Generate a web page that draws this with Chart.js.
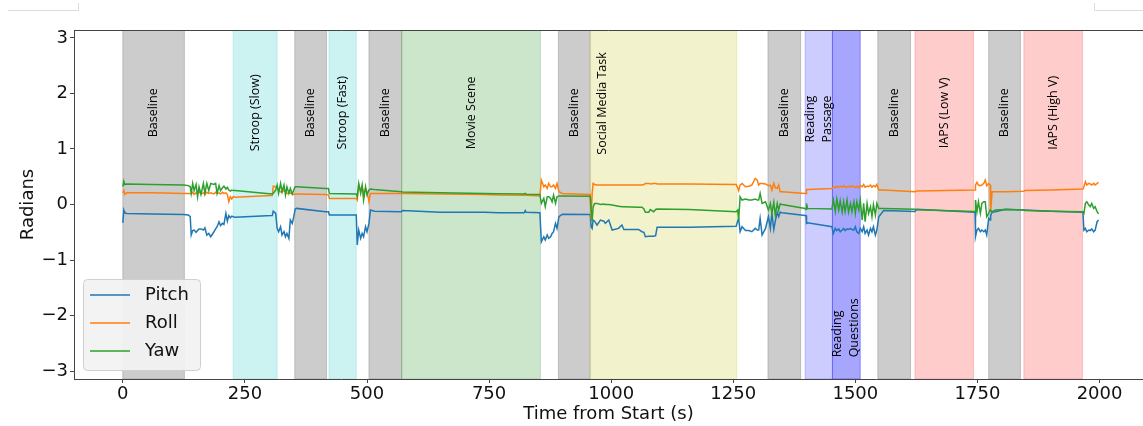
<!DOCTYPE html>
<html>
<head>
<meta charset="utf-8">
<script src="https://cdn.jsdelivr.net/npm/chart.js@4.4.1/dist/chart.umd.min.js"></script>
<style>
  html, body { margin: 0; padding: 0; background: #fff; overflow: hidden; }
  #wrap { position: relative; width: 1143px; height: 426px; }
</style>
</head>
<body>
<div id="wrap"><canvas id="myChart"></canvas></div>
<script>
// time (s) of each sample, shared by the three series
const t = [
  0, 2, 4, 8, 60, 125, 134,
  138, 140, 143, 146, 150, 153, 156, 160, 165, 168, 172, 176, 180, 186, 190, 193, 197, 200, 204, 207, 211, 214, 217, 220, 223, 226,
  230, 305,
  306, 308, 313, 316, 319, 323, 326, 330, 333, 336, 340, 343, 347, 350, 353,
  356, 415, 421,
  423, 478,
  480, 483, 487, 490, 493, 497, 500, 504, 507,
  515, 570, 573, 650, 740, 770, 822, 824, 826, 854,
  857, 862, 865, 869, 872, 876, 879, 882, 886, 889, 893, 900,
  955,
  957, 959, 961, 963, 966, 971, 978, 985, 988, 995, 1002, 1015, 1022, 1026, 1056, 1063, 1067, 1070, 1077, 1080, 1087, 1091, 1094, 1160, 1256,
  1259, 1261, 1264, 1268, 1275, 1282, 1288, 1295, 1299, 1302, 1305, 1309, 1316, 1322, 1326, 1329, 1333, 1336, 1340, 1343, 1346,
  1350, 1397,
  1399, 1400, 1402, 1452,
  1455, 1459, 1462, 1466, 1469, 1473, 1476, 1479, 1483, 1486, 1490, 1493, 1497, 1500, 1503, 1507, 1510, 1514, 1517, 1520, 1524, 1527, 1531, 1534, 1537, 1541, 1544, 1548,
  1558, 1622, 1626, 1745,
  1746, 1749, 1752, 1756, 1759, 1763, 1766, 1769, 1773, 1776, 1777, 1780, 1787, 1807,
  1845, 1847, 1900, 1966,
  1968, 1971, 1974, 1978, 1981, 1984, 1988, 1991, 1995, 1998
];

const pitch = [
  -0.33, -0.10, -0.15, -0.16, -0.17, -0.18, -0.19,
  -0.22, -0.55, -0.47, -0.46, -0.50, -0.47, -0.44, -0.44, -0.46, -0.42, -0.55, -0.52, -0.58, -0.50, -0.44, -0.40, -0.31, -0.38, -0.34, -0.36, -0.16, -0.30, -0.20, -0.24, -0.21, -0.22,
  -0.23, -0.20,
  -0.20, -0.12, -0.16, -0.43, -0.49, -0.40, -0.55, -0.49, -0.58, -0.52, -0.61, -0.28, -0.34, -0.22, -0.08,
  -0.07, -0.13, -0.13,
  -0.19, -0.19,
  -0.73, -0.46, -0.61, -0.52, -0.58, -0.40, -0.49, -0.34, -0.10,
  -0.12, -0.13, -0.11, -0.14, -0.14, -0.15, -0.15, -0.11, -0.14, -0.15,
  -0.67, -0.58, -0.64, -0.55, -0.61, -0.58, -0.52, -0.49, -0.34, -0.43, -0.22, -0.175,
  -0.18,
  -0.18, -0.40, -0.43, -0.28, -0.30, -0.37, -0.28, -0.30, -0.34, -0.28, -0.46, -0.43, -0.37, -0.45, -0.45, -0.49, -0.50, -0.58, -0.57, -0.57, -0.57, -0.56, -0.41, -0.41, -0.39,
  -0.30, -0.25, -0.49, -0.40, -0.47, -0.47, -0.49, -0.43, -0.46, -0.46, -0.25, -0.55, -0.43, -0.22, -0.43, -0.16, -0.45, -0.30, -0.14, -0.22, -0.14,
  -0.15, -0.20,
  -0.20, -0.34, -0.33, -0.40,
  -0.52, -0.43, -0.47, -0.44, -0.49, -0.46, -0.43, -0.47, -0.44, -0.45, -0.43, -0.45, -0.46, -0.40, -0.49, -0.52, -0.43, -0.49, -0.40, -0.52, -0.46, -0.55, -0.43, -0.49, -0.40, -0.55, -0.46, -0.22,
  -0.11, -0.125, -0.085, -0.14,
  -0.58, -0.46, -0.43, -0.49, -0.46, -0.49, -0.46, -0.55, -0.25, -0.28, -0.20, -0.14, -0.13, -0.085,
  -0.10, -0.10, -0.12, -0.14,
  -0.46, -0.43, -0.49, -0.46, -0.47, -0.44, -0.49, -0.46, -0.31, -0.28
];

const roll = [
  0.21, 0.25, 0.18, 0.21, 0.21, 0.20, 0.20,
  0.20, 0.19, 0.22, 0.18, 0.21, 0.20, 0.23, 0.19, 0.21, 0.18, 0.22, 0.20, 0.21, 0.19, 0.22, 0.20, 0.21, 0.19, 0.22, 0.20, 0.21, 0.18, 0.05, 0.14, 0.10, 0.14,
  0.13, 0.16,
  0.16, 0.33, 0.32, 0.31, 0.26, 0.23, 0.22, 0.26, 0.24, 0.20, 0.20, 0.21, 0.19, 0.18, 0.19,
  0.19, 0.18, 0.17,
  0.11, 0.11,
  0.08, 0.35, 0.26, 0.32, 0.20, 0.29, 0.23, 0.05, 0.20,
  0.20, 0.20, 0.20, 0.19, 0.18, 0.17, 0.165, 0.17, 0.165, 0.155,
  0.44, 0.32, 0.35, 0.29, 0.38, 0.32, 0.32, 0.35, 0.29, 0.38, 0.23, 0.20,
  0.18,
  0.18, -0.27, 0.20, 0.38, 0.36, 0.35, 0.35, 0.35, 0.35, 0.35, 0.35, 0.35, 0.35, 0.35, 0.35, 0.35, 0.36, 0.38, 0.38, 0.37, 0.38, 0.38, 0.37, 0.37, 0.36,
  0.30, 0.25, 0.35, 0.38, 0.32, 0.33, 0.35, 0.47, 0.44, 0.35, 0.38, 0.38, 0.37, 0.34, 0.35, 0.26, 0.38, 0.30, 0.29, 0.35, 0.23,
  0.23, 0.20,
  0.20, 0.27, 0.27, 0.29,
  0.32, 0.30, 0.33, 0.31, 0.33, 0.31, 0.34, 0.32, 0.31, 0.33, 0.31, 0.34, 0.32, 0.31, 0.33, 0.30, 0.34, 0.32, 0.36, 0.31, 0.33, 0.32, 0.35, 0.31, 0.34, 0.32, 0.36, 0.26,
  0.26, 0.23, 0.245, 0.26,
  0.35, 0.40, 0.35, 0.34, 0.35, 0.38, 0.44, 0.34, 0.38, 0.35, -0.13, 0.23, 0.23, 0.23,
  0.24, 0.25, 0.26, 0.28,
  0.32, 0.41, 0.35, 0.38, 0.37, 0.35, 0.38, 0.35, 0.38, 0.40
];

const yaw = [
  0.32, 0.42, 0.36, 0.37, 0.36, 0.35, 0.34,
  0.32, 0.20, 0.38, 0.25, 0.36, 0.14, 0.32, 0.18, 0.38, 0.20, 0.38, 0.25, 0.38, 0.36, 0.38, 0.20, 0.34, 0.25, 0.30, 0.33, 0.28, 0.31, 0.26, 0.24, 0.26, 0.25,
  0.25, 0.19,
  0.19, 0.20, 0.26, 0.35, 0.20, 0.38, 0.23, 0.35, 0.17, 0.32, 0.20, 0.29, 0.19, 0.26, 0.32,
  0.32, 0.29, 0.29,
  0.20, 0.19,
  0.14, 0.38, 0.20, 0.35, 0.08, 0.32, 0.17, 0.26, 0.28,
  0.27, 0.23, 0.225, 0.21, 0.20, 0.195, 0.19, 0.20, 0.185, 0.18,
  0.02, 0.11, -0.04, 0.14, 0.14, 0.11, 0.05, 0.17, 0.02, 0.14, 0.155, 0.155,
  0.15,
  0.15, -0.10, -0.30, -0.05, 0.02, 0.02, 0.00, 0.01, 0.00, 0.00, -0.01, -0.03, -0.04, -0.04, -0.05, -0.05, -0.08, -0.14, -0.14, -0.09, -0.13, -0.09, -0.08, -0.09, -0.13,
  -0.10, -0.28, 0.14, 0.08, 0.10, 0.08, 0.08, 0.10, 0.08, 0.08, 0.20, 0.02, 0.05, -0.10, 0.02, -0.16, 0.04, -0.19, 0.02, -0.10, 0.01,
  0.00, -0.07,
  -0.09, 0.02, -0.07, -0.08,
  0.08, -0.13, 0.10, -0.10, 0.07, -0.14, 0.05, -0.13, 0.08, -0.14, 0.02, -0.13, 0.05, -0.16, 0.05, -0.10, 0.08, -0.28, 0.02, -0.31, 0.02, -0.16, -0.04, -0.22, 0.00, -0.19, 0.02, -0.07,
  -0.07, -0.085, -0.095, -0.125,
  0.08, -0.13, 0.05, -0.16, 0.02, 0.05, 0.05, -0.22, -0.16, -0.10, -0.11, -0.13, -0.10, -0.09,
  -0.10, -0.11, -0.12, -0.13,
  -0.16, 0.02, 0.05, -0.01, -0.04, 0.02, -0.07, -0.04, -0.13, -0.17
];

// task segments
const segStart = [0, 226, 352, 422, 504, 571, 892, 957, 1321, 1397, 1453, 1546, 1622, 1773, 1845];
const segEnd   = [126, 316, 417, 478, 571, 855, 957, 1257, 1388, 1453, 1510, 1613, 1742, 1838, 1965];
const segLabel = ['Baseline', 'Stroop (Slow)', 'Baseline', 'Stroop (Fast)', 'Baseline', 'Movie Scene',
  'Baseline', 'Social Media Task', 'Baseline', 'Reading\nPassage', 'Reading\nQuestions',
  'Baseline', 'IAPS (Low V)', 'Baseline', 'IAPS (High V)'];
const segKind  = ['base', 'stroop', 'base', 'stroop', 'base', 'movie', 'base', 'social', 'base',
  'passage', 'questions', 'base', 'iaps', 'base', 'iaps'];

const xTicks = [0, 250, 500, 750, 1000, 1250, 1500, 1750, 2000];
const yTicks = [-3, -2, -1, 0, 1, 2, 3];

const kindColor = {
  base: 'rgba(128,128,128,0.4)',
  stroop: 'rgba(0,191,191,0.2)',
  movie: 'rgba(0,128,0,0.2)',
  social: 'rgba(191,191,0,0.2)',
  passage: 'rgba(0,0,255,0.2)',
  questions: 'rgba(0,0,255,0.35)',
  iaps: 'rgba(255,0,0,0.2)'
};

const toPts = vals => t.map((x, i) => ({x: x, y: vals[i]}));

// shaded task regions + their rotated labels
const regions = {
  id: 'regions',
  beforeDatasetsDraw(chart) {
    const {ctx, chartArea, scales} = chart;
    const xs = scales.x, ys = scales.y;
    ctx.save();
    ctx.beginPath();
    ctx.rect(chartArea.left, chartArea.top, chartArea.right - chartArea.left, chartArea.bottom - chartArea.top);
    ctx.clip();
    segStart.forEach((s, i) => {
      const x1 = xs.getPixelForValue(s);
      const x2 = xs.getPixelForValue(segEnd[i]);
      const col = kindColor[segKind[i]];
      ctx.fillStyle = col;
      ctx.fillRect(x1, chartArea.top, x2 - x1, chartArea.bottom - chartArea.top);
      ctx.strokeStyle = col;
      ctx.lineWidth = 1;
      ctx.strokeRect(x1, chartArea.top, x2 - x1, chartArea.bottom - chartArea.top);
    });
    ctx.fillStyle = '#000';
    ctx.font = '12.5px "Open Sans"';
    ctx.textBaseline = 'middle';
    ctx.textAlign = 'left';
    segStart.forEach((s, i) => {
      const label = segLabel[i];
      let lx = (s + segEnd[i]) / 2;
      let ly = 1.65;
      if (label === 'Social Media Task') { lx = s + 25; ly = 1.82; }
      if (label === 'Reading\nPassage') ly = 1.54;
      if (label === 'Reading\nQuestions') ly = -2.22;
      const lines = label.split('\n');
      const w = Math.max(...lines.map(l => ctx.measureText(l).width));
      const lh = 17;
      ctx.save();
      ctx.translate(xs.getPixelForValue(lx), ys.getPixelForValue(ly));
      ctx.rotate(-Math.PI / 2);
      lines.forEach((l, j) => {
        ctx.fillText(l, -w / 2, (j - (lines.length - 1) / 2) * lh);
      });
      ctx.restore();
    });
    ctx.restore();
  }
};

// legend box in lower left, top spine, corner marks
const extras = {
  id: 'extras',
  afterDraw(chart) {
    const {ctx, chartArea} = chart;
    ctx.save();
    ctx.strokeStyle = '#444';
    ctx.lineWidth = 1;
    ctx.beginPath();
    ctx.moveTo(chartArea.left, chartArea.top + 0.5);
    ctx.lineTo(chartArea.right, chartArea.top + 0.5);
    ctx.stroke();

    ctx.strokeStyle = '#dcdcdc';
    ctx.beginPath();
    ctx.moveTo(8, 10.5); ctx.lineTo(78.5, 10.5); ctx.lineTo(78.5, 3);
    ctx.moveTo(1094.5, 3); ctx.lineTo(1094.5, 10.5); ctx.lineTo(1143, 10.5);
    ctx.stroke();

    const bx = chartArea.left + 9, by = chartArea.bottom - 100, bw = 117, bh = 91;
    ctx.fillStyle = 'rgba(242,242,242,0.95)';
    ctx.strokeStyle = '#cfcfcf';
    ctx.beginPath();
    ctx.roundRect(bx + 0.5, by + 0.5, bw, bh, 4);
    ctx.fill();
    ctx.stroke();
    ctx.font = '18px "DejaVu Sans"';
    ctx.textBaseline = 'middle';
    ctx.textAlign = 'left';
    chart.data.datasets.forEach((ds, i) => {
      const yy = by + 16 + i * 28;
      ctx.strokeStyle = ds.borderColor;
      ctx.lineWidth = 1.5;
      ctx.beginPath();
      ctx.moveTo(bx + 7, yy);
      ctx.lineTo(bx + 47, yy);
      ctx.stroke();
      ctx.fillStyle = '#111';
      ctx.fillText(ds.label, bx + 62, yy);
    });
    ctx.restore();
  }
};

const tickFont = {family: 'DejaVu Sans', size: 18};

const config = {
  type: 'scatter',
  data: {
    datasets: [
      {label: 'Pitch', data: toPts(pitch), borderColor: '#1f77b4', order: 3},
      {label: 'Roll', data: toPts(roll), borderColor: '#ff7f0e', order: 2},
      {label: 'Yaw', data: toPts(yaw), borderColor: '#2ca02c', order: 1}
    ].map(d => Object.assign(d, {showLine: true, pointRadius: 0, borderWidth: 1.5, tension: 0, fill: false}))
  },
  options: {
    responsive: true,
    maintainAspectRatio: false,
    animation: false,
    layout: {padding: {top: 30, right: 0, bottom: 0, left: 0}},
    plugins: {legend: {display: false}, tooltip: {enabled: false}},
    scales: {
      x: {
        type: 'linear',
        min: -100,
        max: 2089,
        afterBuildTicks: s => { s.ticks = xTicks.map(v => ({value: v})); },
        afterFit: s => { s.height = 47; },
        grid: {drawOnChartArea: false, drawTicks: true, tickLength: 4, color: '#444'},
        border: {display: true, color: '#444', width: 1},
        ticks: {font: tickFont, color: '#111', padding: 1, maxRotation: 0, callback: v => String(v)},
        title: {display: true, text: 'Time from Start (s)', font: tickFont, color: '#111', padding: {top: 0, bottom: 1}}
      },
      y: {
        min: -Math.PI,
        max: Math.PI,
        afterBuildTicks: s => { s.ticks = yTicks.map(v => ({value: v})); },
        afterFit: s => { s.width = 74; },
        grid: {drawOnChartArea: false, drawTicks: true, tickLength: 4, color: '#444'},
        border: {display: true, color: '#444', width: 1},
        ticks: {font: tickFont, color: '#111', padding: 2, callback: v => String(v).replace('-', '\u2212')},
        title: {display: true, text: 'Radians', font: tickFont, color: '#111', padding: {top: 18, bottom: 0}}
      }
    }
  },
  plugins: [regions, extras]
};

const myChart = new Chart(document.getElementById('myChart'), config);
</script>
</body>
</html>
